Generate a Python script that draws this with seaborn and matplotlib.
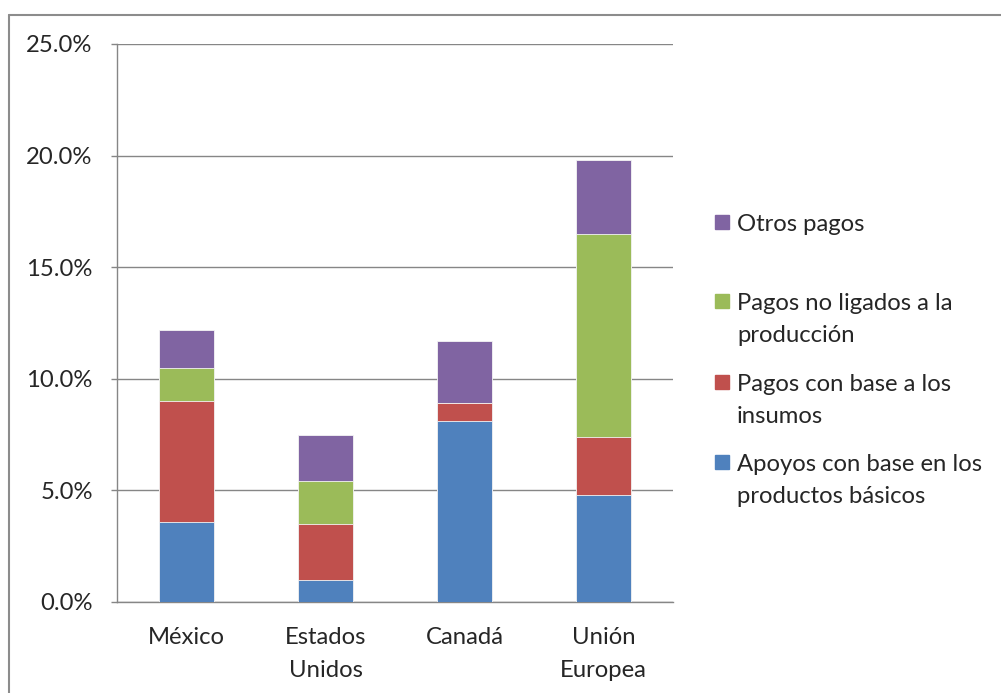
import numpy as np
import matplotlib
matplotlib.use("Agg")
import matplotlib.pyplot as plt
import seaborn as sns
from matplotlib.patches import Rectangle
from matplotlib.lines import Line2D
from matplotlib.ticker import FuncFormatter

# Data (percent of value of production)
countries = ["México", "Estados\nUnidos", "Canadá", "Unión\nEuropea"]
apoyos = [3.6, 1.0, 8.1, 4.8]
insumos = [5.4, 2.5, 0.8, 2.6]
no_ligados = [1.5, 1.9, 0.0, 9.1]
otros = [1.7, 2.1, 2.8, 3.3]

series_names = [
    "Apoyos con base en los\nproductos básicos",
    "Pagos con base a los\ninsumos",
    "Pagos no ligados a la\nproducción",
    "Otros pagos",
]
colors = ["#4F81BD", "#C0504D", "#9BBB59", "#8064A2"]

sns.set_style("white")
plt.rcParams["font.family"] = ["Lato", "DejaVu Sans"]
fs = 17.2

fig = plt.figure(figsize=(10.01, 6.93), dpi=100)
ax = fig.add_axes([117 / 1001, 1 - 602 / 693, (673 - 117) / 1001, (602 - 44) / 693])

# stacked bars: draw cumulative totals from top series down
stack = np.array([apoyos, insumos, no_ligados, otros])
cum = np.cumsum(stack, axis=0)
for i in range(3, -1, -1):
    sns.barplot(x=list(range(len(countries))), y=cum[i], color=colors[i],
                width=0.4, edgecolor="#f4f4f4", linewidth=0.6,
                saturation=1, ax=ax, zorder=3)

grid_c = "#868686"
ax.set_ylim(0, 25)
ax.set_xlim(-0.5, 3.5)
ax.set_yticks([0, 5, 10, 15, 20, 25])
ax.yaxis.set_major_formatter(FuncFormatter(lambda v, p: f"{v:.1f}%"))
ax.grid(axis="y", color=grid_c, linewidth=1.0, zorder=0)
ax.set_axisbelow(True)

ax.set_xticks(range(len(countries)))
ax.set_xticklabels(countries, linespacing=1.68)
ax.set_xticks([-0.5, 0.5, 1.5, 2.5, 3.5], minor=True)
ax.tick_params(axis="x", which="major", length=0, pad=18, labelsize=fs)
ax.tick_params(axis="x", which="minor", length=4.5, color=grid_c, width=1, direction="out")
ax.tick_params(axis="y", length=4.5, color=grid_c, width=1, direction="out", pad=13,
               labelsize=fs, left=True)

for s in ["top", "right"]:
    ax.spines[s].set_visible(False)
for s in ["left", "bottom"]:
    ax.spines[s].set_color(grid_c)
    ax.spines[s].set_linewidth(1.0)
ax.set_xlabel("")
ax.set_ylabel("")

# legend drawn Excel-style (marker aligned with first line)
leg_y = [222, 301, 382, 462]
for k, idx in enumerate([3, 2, 1, 0]):
    y = 1 - leg_y[k] / 693
    fig.patches.append(Rectangle((715 / 1001, y - 7 / 693), 14 / 1001, 14 / 693,
                                 transform=fig.transFigure, color=colors[idx]))
    fig.text(737 / 1001, y + 8 / 693, series_names[idx], fontsize=fs,
             va="top", ha="left", linespacing=1.66)

# chart frame
fig.add_artist(Line2D([9 / 1001, 1], [1 - 15 / 693] * 2, color="#8c8c8c", lw=1.5,
                      transform=fig.transFigure))
fig.add_artist(Line2D([9 / 1001] * 2, [0, 1 - 15 / 693], color="#8c8c8c", lw=1.5,
                      transform=fig.transFigure))

fig.savefig("out.png", dpi=100)
